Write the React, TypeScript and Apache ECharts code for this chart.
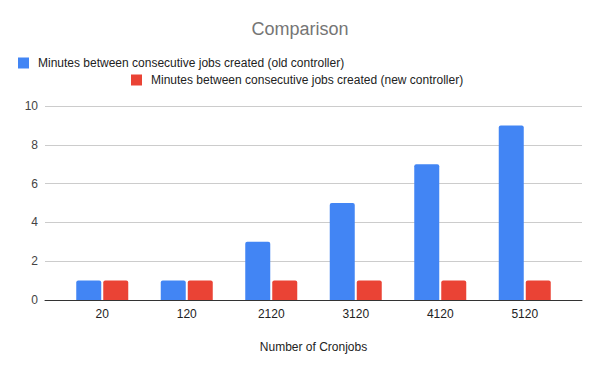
import React, { useEffect, useRef } from "react";
import * as echarts from "echarts";

const categories = ["20", "120", "2120", "3120", "4120", "5120"];
const oldController = [1, 1, 3, 5, 7, 9];
const newController = [1, 1, 1, 1, 1, 1];
const seriesNames = [
  "Minutes between consecutive jobs created (old controller)",
  "Minutes between consecutive jobs created (new controller)",
];
const yMin = 0;
const yMax = 10;
const yInterval = 2;

const FONT = "'Liberation Sans', Arial, sans-serif";

export default function App() {
  const ref = useRef<HTMLDivElement>(null);
  useEffect(() => {
    if (!ref.current) return;
    const chart = echarts.init(ref.current, null, { renderer: "svg" });
    chart.setOption({
      animation: false,
      backgroundColor: "#ffffff",
      textStyle: { fontFamily: FONT },
      title: {
        text: "Comparison",
        left: "center",
        top: 20,
        padding: 0,
        textStyle: { fontFamily: FONT, fontSize: 18, fontWeight: "normal", color: "#757575" },
      },
      legend: [
        {
          data: [seriesNames[0]],
          left: 18,
          top: 57,
          padding: 0,
          itemWidth: 11,
          itemHeight: 11,
          icon: "rect",
          textStyle: { fontFamily: FONT, fontSize: 12, color: "#222", padding: [0, 0, 0, 4] },
        },
        {
          data: [seriesNames[1]],
          left: 131,
          top: 74,
          padding: 0,
          itemWidth: 11,
          itemHeight: 11,
          icon: "rect",
          textStyle: { fontFamily: FONT, fontSize: 12, color: "#222", padding: [0, 0, 0, 4] },
        },
      ],
      grid: [
        { left: 45, right: 18, top: 106, bottom: 71 },
        { left: 60, right: 33, top: 106, bottom: 71 },
      ],
      xAxis: [
        {
          type: "category",
          gridIndex: 0,
          data: categories,
          axisLine: { show: true, lineStyle: { color: "#333", width: 1 } },
          axisTick: { show: false },
          axisLabel: { show: false },
          z: 5,
        },
        {
          type: "category",
          gridIndex: 1,
          data: categories,
          axisLine: { show: false },
          axisTick: { show: false },
          axisLabel: { fontFamily: FONT, fontSize: 12, color: "#222", margin: 8 },
          name: "Number of Cronjobs",
          nameLocation: "middle",
          nameGap: 41,
          nameTextStyle: { fontFamily: FONT, fontSize: 12, color: "#222" },
        },
      ],
      yAxis: [
        {
          type: "value",
          gridIndex: 0,
          min: yMin,
          max: yMax,
          interval: yInterval,
          axisLine: { show: false },
          axisTick: { show: false },
          axisLabel: { fontFamily: FONT, fontSize: 12, color: "#444", margin: 7 },
          splitLine: { show: true, lineStyle: { color: "#cccccc", width: 1 } },
        },
        {
          type: "value",
          gridIndex: 1,
          min: yMin,
          max: yMax,
          interval: yInterval,
          axisLine: { show: false },
          axisTick: { show: false },
          axisLabel: { show: false },
          splitLine: { show: false },
        },
      ],
      series: [
        {
          name: seriesNames[0],
          type: "bar",
          xAxisIndex: 1,
          yAxisIndex: 1,
          data: oldController,
          barWidth: 25,
          barGap: "8%",
          itemStyle: { color: "#4285F4", borderRadius: [2, 2, 0, 0] },
        },
        {
          name: seriesNames[1],
          type: "bar",
          xAxisIndex: 1,
          yAxisIndex: 1,
          data: newController,
          barWidth: 25,
          barGap: "8%",
          itemStyle: { color: "#EA4335", borderRadius: [2, 2, 0, 0] },
        },
      ],
    });
    return () => chart.dispose();
  }, []);
  return <div ref={ref} style={{ width: 600, height: 371, position: "absolute", left: 0, top: 0 }} />;
}
